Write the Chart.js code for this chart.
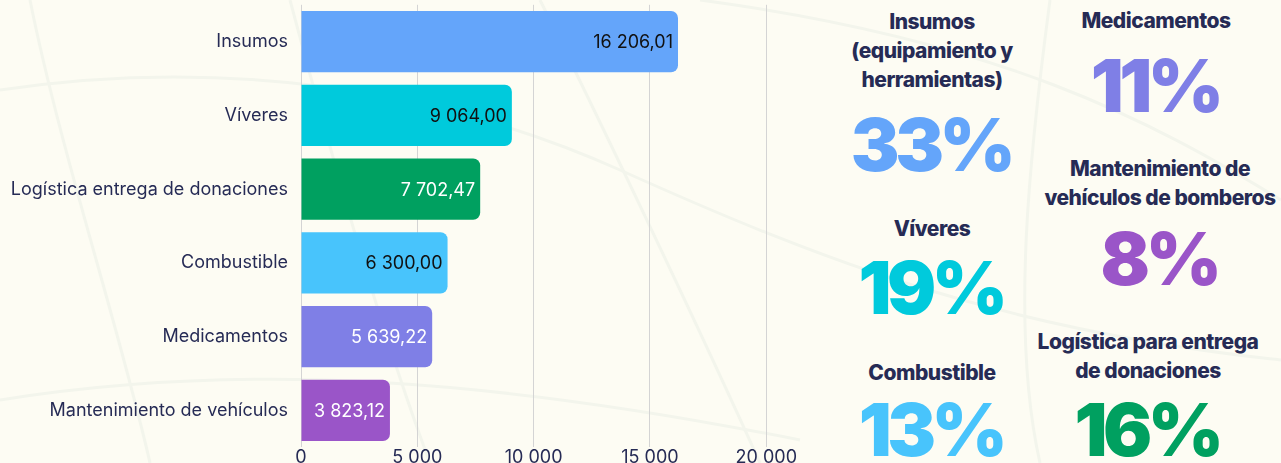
<!DOCTYPE html>
<html>
<head>
<meta charset="utf-8">
<script src="https://cdn.jsdelivr.net/npm/chart.js@4.4.0/dist/chart.umd.min.js"></script>
<style>
  html, body { margin: 0; padding: 0; }
  body {
    width: 1281px; height: 463px; overflow: hidden; position: relative;
    background: #fdfcf3;
    font-family: Inter, "Noto Sans", sans-serif;
  }
  #bg { position: absolute; left: 0; top: 0; }
  #wrap { position: absolute; left: 0; top: -11px; width: 797px; height: 474px; }
  .txt { position: absolute; text-align: center; white-space: nowrap; transform: translateX(-50%); }
  .head { font-size: 21px; font-weight: 800; color: #262b55; line-height: 29px; letter-spacing: -0.5px; }
  .pct { font-size: 73px; font-weight: 900; line-height: 73px; letter-spacing: -4.5px; }
</style>
</head>
<body>
<svg id="bg" width="1281" height="463">
  <g fill="none" stroke="#f3f5ec" stroke-width="3">
    <path d="M0 90 C 200 60, 420 80, 620 170 S 1000 330, 1281 360"/>
    <path d="M0 400 C 250 360, 500 380, 800 440"/>
    <path d="M30 0 C 60 150, 120 330, 150 463"/>
    <path d="M290 0 C 330 150, 380 330, 430 463"/>
    <path d="M540 0 C 600 120, 700 330, 760 463"/>
    <path d="M1050 0 C 1030 150, 1010 330, 1040 463"/>
    <path d="M700 0 C 1000 40, 1150 120, 1281 200"/>
  </g>
</svg>
<div id="wrap"><canvas id="graficoGastos"></canvas></div>
<div id="panel"></div>

<script>
// datos
const categorias = ['Insumos', 'Víveres', 'Logística entrega de donaciones', 'Combustible', 'Medicamentos', 'Mantenimiento de vehículos'];
const montos = [16206.01, 9064.00, 7702.47, 6300.00, 5639.22, 3823.12];
const colores = ['#64a5fa', '#00cadc', '#00a060', '#48c4fc', '#7f7fe6', '#9a55c8'];
const coloresEtiqueta = ['#111111', '#111111', '#ffffff', '#111111', '#ffffff', '#ffffff'];
const ticksX = [0, 5000, 10000, 15000, 20000];

// resumen de porcentajes (columna derecha)
const resumenTitulos = [
    ['Insumos', '(equipamiento y', 'herramientas)'],
    ['Víveres'],
    ['Combustible'],
    ['Medicamentos'],
    ['Mantenimiento de', 'vehículos de bomberos'],
    ['Logística para entrega', 'de donaciones']
];
const resumenPorcentajes = ['33%', '19%', '13%', '11%', '8%', '16%'];
const resumenColores = ['#64a5fa', '#00cadc', '#48c4fc', '#7f7fe6', '#9a55c8', '#00a060'];

// ubicacion de cada bloque: centro x, top del titulo, top del porcentaje
const resumenPos = [
    [932, 7, 108],
    [932, 214, 251],
    [932, 358, 393],
    [1156, 6, 49],
    [1160, 154, 222],
    [1148, 327, 393]
];

function formatoNumero(v, dec) {
    let partes = v.toFixed(dec).split('.');
    let entero = partes[0].replace(/\B(?=(\d{3})+(?!\d))/g, ' ');
    return partes.length > 1 ? entero + ',' + partes[1] : entero;
}

let panel = document.getElementById('panel');
resumenTitulos.forEach((lineas, i) => {
    let [cx, tTop, pTop] = resumenPos[i];
    let h = document.createElement('div');
    h.className = 'txt head';
    h.style.left = cx + 'px';
    h.style.top = tTop + 'px';
    h.innerHTML = lineas.join('<br>');
    panel.appendChild(h);

    let p = document.createElement('div');
    p.className = 'txt pct';
    p.style.left = (cx - 1) + 'px';
    p.style.top = pTop + 'px';
    p.style.color = resumenColores[i];
    p.textContent = resumenPorcentajes[i];
    panel.appendChild(p);
});

// etiquetas de valor dentro de las barras
const etiquetasBarras = {
    id: 'etiquetasBarras',
    afterDatasetsDraw(chart) {
        const ctx = chart.ctx;
        const meta = chart.getDatasetMeta(0);
        ctx.save();
        ctx.font = '400 18px Inter, "Noto Sans", sans-serif';
        ctx.textAlign = 'right';
        ctx.textBaseline = 'middle';
        meta.data.forEach((bar, i) => {
            ctx.fillStyle = coloresEtiqueta[i];
            ctx.fillText(formatoNumero(montos[i], 2), bar.x - 5, bar.y + 1);
        });
        ctx.restore();
    }
};

const graficoGastos = new Chart(document.getElementById('graficoGastos'), {
    type: 'bar',
    data: {
        labels: categorias,
        datasets: [{
            data: montos,
            backgroundColor: colores,
            borderWidth: 0,
            borderRadius: 7,
            borderSkipped: 'start'
        }]
    },
    options: {
        responsive: true,
        maintainAspectRatio: false,
        animation: false,
        indexAxis: 'y',
        categoryPercentage: 0.83,
        barPercentage: 1,
        layout: { padding: { top: -15, bottom: -6, left: 0, right: 0 } },
        plugins: {
            legend: { display: false },
            tooltip: { enabled: false }
        },
        scales: {
            y: {
                afterFit: scale => { scale.width = 301; },
                grid: { display: false },
                border: { display: false },
                ticks: {
                    padding: 5,
                    color: '#262b55',
                    font: { family: 'Inter', size: 18 }
                }
            },
            x: {
                min: 0,
                max: 20000,
                afterBuildTicks: scale => { scale.ticks = ticksX.map(v => ({ value: v })); },
                grid: { color: '#d4d4d4', lineWidth: 1, drawTicks: false },
                border: { display: false },
                ticks: {
                    padding: 0,
                    color: '#262b55',
                    font: { family: 'Inter', size: 18 },
                    callback: value => formatoNumero(value, 0)
                }
            }
        }
    },
    plugins: [etiquetasBarras]
});
</script>
</body>
</html>
